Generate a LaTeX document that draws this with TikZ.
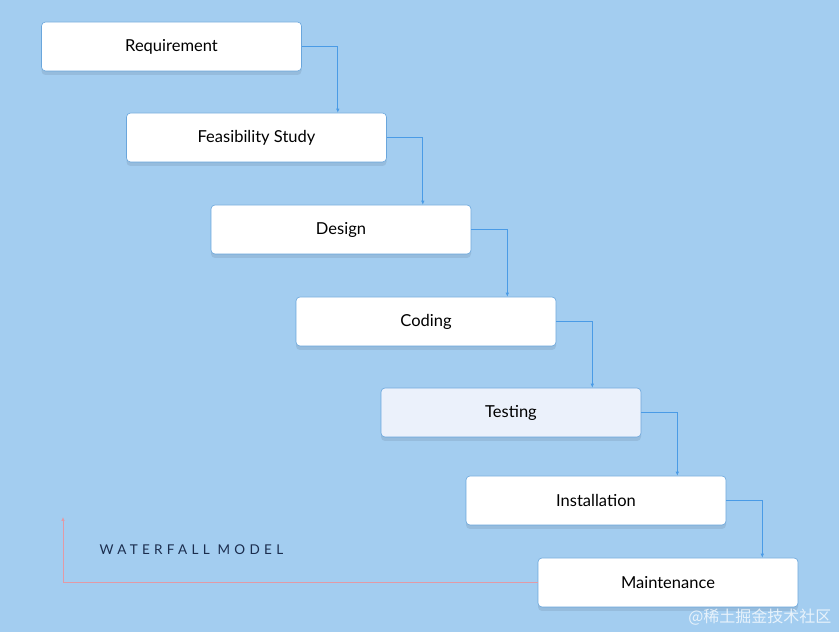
\documentclass[tikz,border=0pt]{standalone}
\usepackage{fontspec}
\setmainfont{Lato}
\newfontfamily\cjkfont{Noto Sans CJK SC}
\usepackage{xcolor}
\usetikzlibrary{positioning, arrows.meta, calc, shadows}

\definecolor{skybg}{HTML}{A3CDF0}
\definecolor{linkblue}{HTML}{4A9BE6}
\definecolor{boxedge}{HTML}{6AA6DC}
\definecolor{backred}{HTML}{E29AA6}
\definecolor{titlenavy}{HTML}{1B2D4E}
\definecolor{testfill}{HTML}{EBF1FB}

\begin{document}
\begin{tikzpicture}[x=1pt, y=1pt, every node/.style={font=\fontsize{16.5}{18}\selectfont}, align=center,
  phase/.style={draw=boxedge, line width=0.6pt, rectangle, rounded corners=4pt, fill=white,
    minimum width=260pt, minimum height=49pt,
    drop shadow={shadow xshift=0pt, shadow yshift=-4pt, opacity=0.08, fill=black}},
  active/.style={phase, fill=testfill},
  link/.style={-{Latex[length=4pt,width=3.5pt]}, draw=linkblue, line width=0.7pt},
  back/.style={-{Latex[length=4pt,width=3.5pt]}, draw=backred, line width=0.7pt}
]
\useasboundingbox (0,0) rectangle (839,632);
\fill[skybg] (0,0) rectangle (839,632);

% Nodes
\node[phase] (req) at (171.5,585.5) {Requirement};
\node[phase] (feas) at (256.5,494.5) {Feasibility Study};
\node[phase] (design) at (341,402.5) {Design};
\node[phase] (coding) at (426,310.5) {Coding};
\node[active] (testing) at (511,219.5) {Testing};
\node[phase] (install) at (596,131.5) {Installation};
\node[phase] (maint) at (668,49.5) {Maintenance};

\coordinate (loopTop) at (63,115);
\node[anchor=west, text=titlenavy, font=\fontsize{13.5}{15}\selectfont\addfontfeature{LetterSpace=32}] (title) at (96,82) {WATERFALL MODEL};
\node[anchor=south east, text=white, opacity=0.75, font=\cjkfont\fontsize{16}{18}\selectfont] (mark) at (835,3) {@稀土掘金技术社区};

% Arrows
\foreach \a/\b in {req/feas, feas/design, design/coding, coding/testing, testing/install, install/maint}
  \draw[link] (\a.east) -| ($(\a.east |- \b.north)+(36,0)$);
\draw[back] (maint.west) -| (loopTop);

\end{tikzpicture}
\end{document}
